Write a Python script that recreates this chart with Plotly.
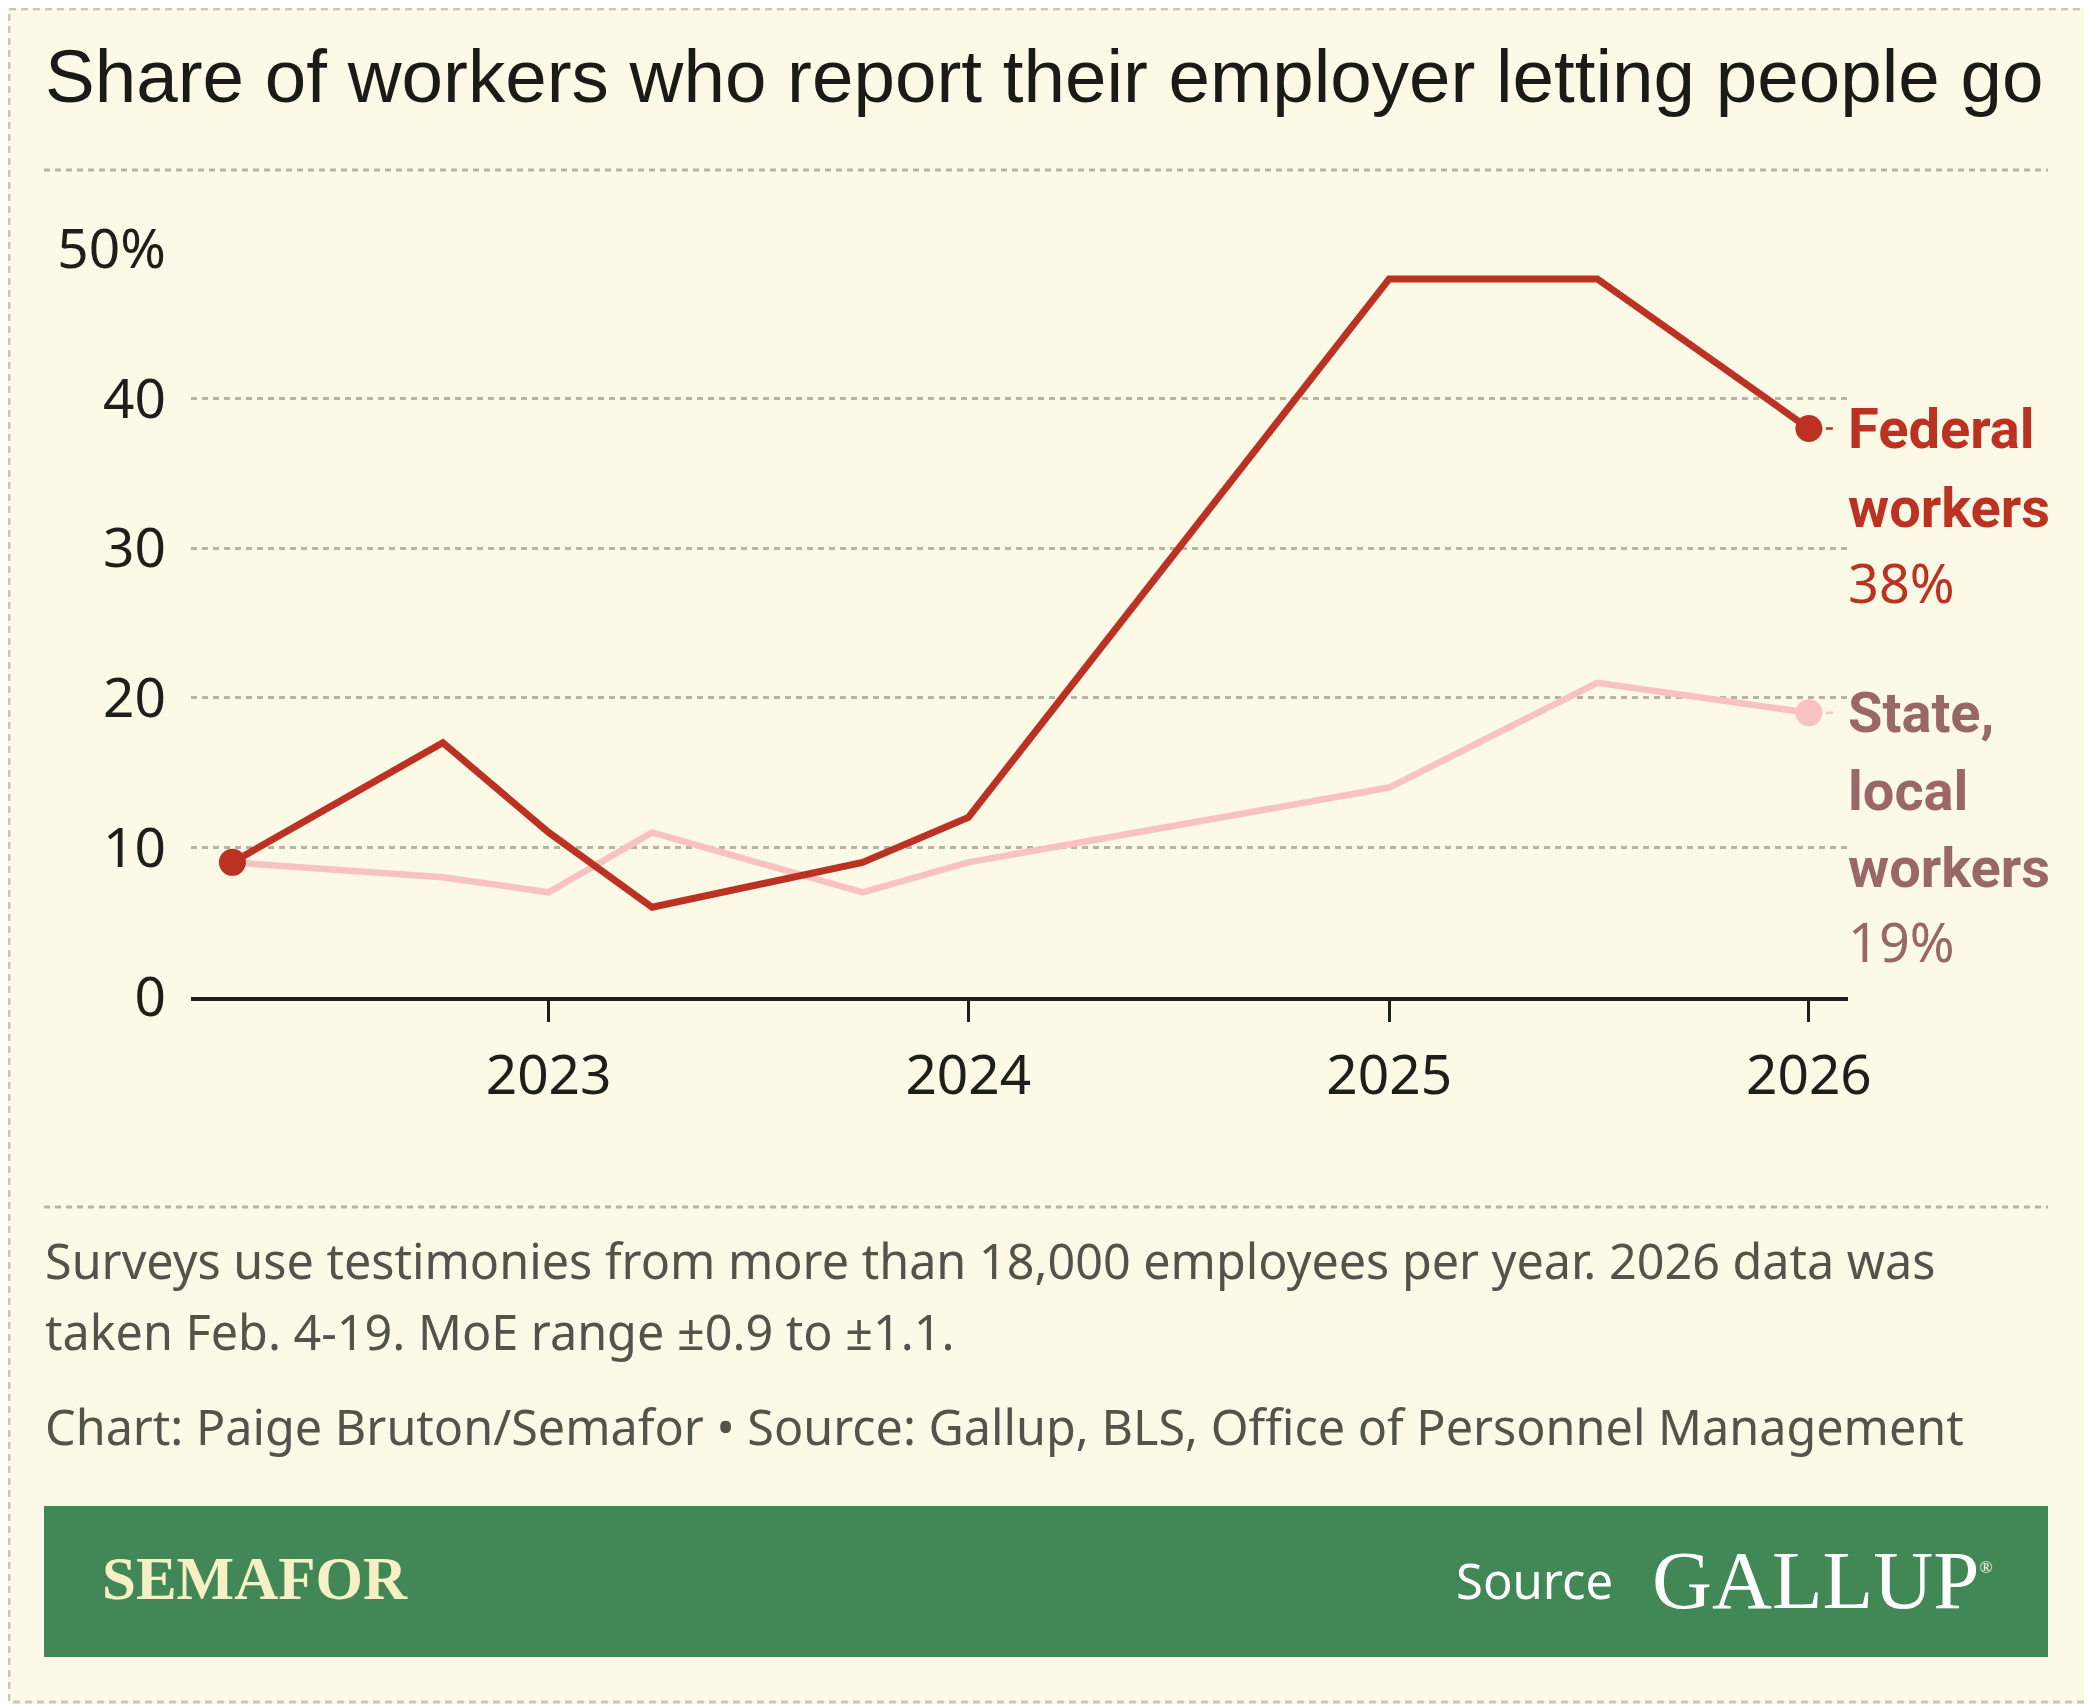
import plotly.graph_objects as go

# the page puts the figure 8px in from the top-left corner, so the
# figure is 8px smaller than the window and positions are given on the page
OFF = 8
W, H = 2092 - OFF, 1704 - OFF
M_L, M_R, M_T, M_B = 183, 244, 241, 707
PW = W - M_L - M_R
PH = H - M_T - M_B


def px(x):
    # page pixel x -> paper x
    return (x - OFF - M_L) / PW


def py(y):
    # page pixel y (from top) -> paper y
    return (H - M_B - (y - OFF)) / PH


# data
dates = ["2022-04-01", "2022-10-01", "2023-01-01", "2023-04-01", "2023-10-01",
         "2024-01-01", "2025-01-01", "2025-07-01", "2026-01-01"]
federal = [9, 17, 11, 6, 9, 12, 48, 48, 38]
state_local = [9, 8, 7, 11, 7, 9, 14, 21, 19]

y_ticks = [0, 10, 20, 30, 40, 50]
y_tick_text = ["0", "10", "20", "30", "40", "50%"]
x_ticks = ["2023-01-01", "2024-01-01", "2025-01-01", "2026-01-01"]
x_tick_text = ["2023", "2024", "2025", "2026"]

BG = "#FCFAE7"
RED = "#BC3222"
PINK = "#F8C2C2"
MAUVE = "#9A6767"
INK = "#1E1E1A"
GREY_TXT = "#54524B"
DASH_GREY = "#B6B4A6"
GREEN = "#428856"

SANS = "Noto Sans"

fig = go.Figure()

fig.add_trace(go.Scatter(x=dates, y=state_local, mode="lines",
                         line=dict(color=PINK, width=6.5), hoverinfo="skip"))
fig.add_trace(go.Scatter(x=dates[-1:], y=state_local[-1:], mode="markers",
                         marker=dict(color=PINK, size=27), cliponaxis=False))
fig.add_trace(go.Scatter(x=dates, y=federal, mode="lines",
                         line=dict(color=RED, width=7), hoverinfo="skip"))
fig.add_trace(go.Scatter(x=[dates[0], dates[-1]], y=[federal[0], federal[-1]], mode="markers",
                         marker=dict(color=RED, size=27), cliponaxis=False))

annotations = []

# end-of-line labels, one annotation per line; the first carries the short connector
series_labels = [(federal, RED, RED, ["Federal", "workers"], 77),
                 (state_local, PINK, MAUVE, ["State,", "local", "workers"], 76.5)]
for vals, col, lcol, words, step in series_labels:
    lines = ["<b>%s</b>" % w for w in words] + ["%d%%" % vals[-1]]
    for i, ln in enumerate(lines):
        is_val = i == len(lines) - 1
        font = dict(family=SANS if is_val else "Roboto",
                    size=54 if is_val else 56, color=lcol)
        if i == 0:
            annotations.append(dict(x=dates[-1], y=vals[-1], xref="x", yref="y", text=ln,
                                    xanchor="left", yanchor="middle",
                                    showarrow=True, ax=24, ay=0, arrowhead=0,
                                    arrowwidth=2.5, arrowcolor=col, standoff=17,
                                    borderpad=14, font=font))
        else:
            annotations.append(dict(x=dates[-1], y=vals[-1], xref="x", yref="y", text=ln,
                                    xanchor="left", yanchor="middle",
                                    xshift=37, yshift=-2 - step * i + (3 if is_val else 0),
                                    showarrow=False, font=font))

# title
annotations.append(dict(x=px(43), y=py(76), xref="paper", yref="paper",
                        text="Share of workers who report their employer letting people go",
                        xanchor="left", yanchor="middle", showarrow=False,
                        font=dict(family="Liberation Sans", size=74.6, color="#1A1A17")))

# notes
notes = [("Surveys use testimonies from more than 18,000 employees per year. 2026 data was", 1260),
         ("taken Feb. 4-19. MoE range ±0.9 to ±1.1.", 1331),
         ("Chart: Paige Bruton/Semafor • Source: Gallup, BLS, Office of Personnel Management", 1426)]
for txt, yy in notes:
    annotations.append(dict(x=px(43), y=py(yy), xref="paper", yref="paper", text=txt,
                            xanchor="left", yanchor="middle", showarrow=False,
                            font=dict(family=SANS, size=48.5, color=GREY_TXT)))

# banner texts
annotations.append(dict(x=px(100), y=py(1578), xref="paper", yref="paper", text="<b>SEMAFOR</b>",
                        xanchor="left", yanchor="middle", showarrow=False,
                        font=dict(family="Liberation Serif", size=61, color="#F7F0C6")))
annotations.append(dict(x=px(1454), y=py(1580), xref="paper", yref="paper", text="Source",
                        xanchor="left", yanchor="middle", showarrow=False,
                        font=dict(family=SANS, size=49, color="white")))
annotations.append(dict(x=px(1650), y=py(1580), xref="paper", yref="paper",
                        text="GALLUP<sup><span style='font-size:17px'>®</span></sup>",
                        xanchor="left", yanchor="middle", showarrow=False,
                        font=dict(family="Liberation Serif", size=83, color="white")))

shapes = [
    # outer dashed frame
    dict(type="rect", xref="paper", yref="paper", x0=px(OFF + 1), x1=px(2090), y0=py(OFF + 1), y1=py(1702),
         line=dict(color="#C9C7BA", width=3, dash="7px,5px"), layer="below"),
    # divider under title
    dict(type="line", xref="paper", yref="paper", x0=px(44), x1=px(2048), y0=py(170), y1=py(170),
         line=dict(color=DASH_GREY, width=3, dash="6px,5px")),
    # divider above notes
    dict(type="line", xref="paper", yref="paper", x0=px(44), x1=px(2048), y0=py(1207), y1=py(1207),
         line=dict(color=DASH_GREY, width=3, dash="6px,5px")),
    # green banner
    dict(type="rect", xref="paper", yref="paper", x0=px(44), x1=px(2048), y0=py(1506), y1=py(1657),
         fillcolor=GREEN, line=dict(width=0), layer="below"),
]

fig.update_layout(
    width=W, height=H,
    margin=dict(l=M_L, r=M_R, t=M_T, b=M_B),
    paper_bgcolor=BG, plot_bgcolor=BG,
    showlegend=False,
    annotations=annotations,
    shapes=shapes,
    font=dict(family=SANS, color=INK),
)

fig.update_xaxes(
    type="date", range=["2022-02-24", "2026-02-04"],
    tickvals=x_ticks, ticktext=x_tick_text,
    ticks="outside", ticklen=21, tickwidth=3, tickcolor=INK,
    showline=True, linecolor=INK, linewidth=4,
    showgrid=False, zeroline=False,
    tickfont=dict(family=SANS, size=55, color=INK),
    ticklabelstandoff=6,
)
fig.update_yaxes(
    range=[0, 50], tickvals=y_ticks, ticktext=y_tick_text,
    showgrid=True, gridcolor=DASH_GREY, gridwidth=3, griddash="6px,5px",
    zeroline=False, showline=False, ticks="",
    tickfont=dict(family=SANS, size=55, color=INK),
    ticklabelstandoff=24,
)

fig.write_html("out.html")
